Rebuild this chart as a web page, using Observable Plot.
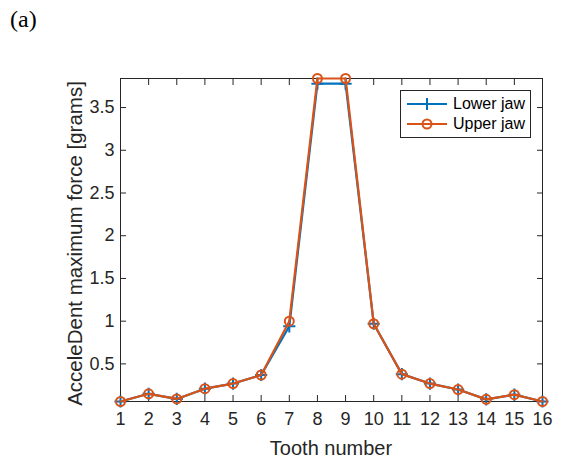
<!DOCTYPE html>
<html><head><meta charset="utf-8">
<script src="https://cdn.jsdelivr.net/npm/d3@7"></script>
<script src="https://cdn.jsdelivr.net/npm/@observablehq/plot@0.6"></script>
<style>
body{margin:0;background:#fff;}
#wrap{position:relative;width:562px;height:458px;font-family:"Liberation Sans",Arial,sans-serif;}
#legend{position:absolute;left:400px;top:90px;width:129px;height:46px;border:1px solid #262626;background:#fff;font-size:16px;color:#000;}
.row{position:absolute;left:6px;height:20px;display:flex;align-items:center;}
.row svg{margin-right:6px;}
#labels{position:absolute;left:0;top:0;pointer-events:none;}
#wrap svg g[aria-label="x-axis tick label"], #wrap svg g[aria-label="y-axis tick label"]{font-size:18px;}
</style></head>
<body><div id="wrap"></div>
<script>
const teeth = [1,2,3,4,5,6,7,8,9,10,11,12,13,14,15,16];
const lowerJaw = [0.06,0.15,0.09,0.21,0.27,0.37,0.94,3.78,3.78,0.97,0.38,0.27,0.20,0.085,0.14,0.06];
const upperJaw = [0.06,0.15,0.09,0.21,0.27,0.37,1.00,3.84,3.84,0.97,0.38,0.27,0.20,0.085,0.14,0.06];
const seriesNames = ["Lower jaw","Upper jaw"];
const seriesColors = ["#0072BD","#D95319"];
const yTicks = [0.5,1,1.5,2,2.5,3,3.5];
const panelTitle = "(a)";
const xLabel = "Tooth number";
const yLabel = "AcceleDent maximum force [grams]";

const lower = teeth.map((t,i)=>({t, v: lowerJaw[i]}));
const upper = teeth.map((t,i)=>({t, v: upperJaw[i]}));
const axisColor = "#262626";
const W = 562, H = 458, mL = 120, mR = 20, mT = 78, mB = 57;

const chart = Plot.plot({
  width: W, height: H,
  marginLeft: mL, marginRight: mR, marginTop: mT, marginBottom: mB,
  style: {fontFamily: '"Liberation Sans", Arial, sans-serif', fontSize: "18px", color: axisColor, background: "transparent"},
  x: {domain: [1,16]},
  y: {domain: [0.06, 3.84]},
  marks: [
    Plot.frame({stroke: axisColor, strokeWidth: 1}),
    Plot.axisX({anchor: "bottom", ticks: teeth, tickSize: -6, tickPadding: 17, tickFormat: d=>String(d), label: null, fontSize: 18}),
    Plot.axisX({anchor: "top", ticks: teeth, tickSize: -6, tickFormat: ()=>"", label: null}),
    Plot.axisY({anchor: "left", ticks: yTicks, tickSize: -6, tickPadding: 12, tickFormat: d=>String(d), label: null, fontSize: 18}),
    Plot.axisY({anchor: "right", ticks: yTicks, tickSize: -6, tickFormat: ()=>"", label: null}),
    Plot.line(lower, {x: "t", y: "v", stroke: seriesColors[0], strokeWidth: 2.2}),
    Plot.dot(lower, {x: "t", y: "v", symbol: "plus", stroke: seriesColors[0], strokeWidth: 2, r: 4}),
    Plot.line(upper, {x: "t", y: "v", stroke: seriesColors[1], strokeWidth: 2.2}),
    Plot.dot(upper, {x: "t", y: "v", symbol: "circle", stroke: seriesColors[1], fill: "none", strokeWidth: 2, r: 4.5})
  ]
});
chart.style.position = "absolute";
chart.style.left = "0"; chart.style.top = "0";
const wrap = document.getElementById("wrap");
wrap.appendChild(chart);

// title and axis labels
const ns = "http://www.w3.org/2000/svg";
const lab = document.createElementNS(ns, "svg");
lab.setAttribute("id","labels"); lab.setAttribute("width", W); lab.setAttribute("height", H);
function addText(str, attrs){
  const t = document.createElementNS(ns, "text");
  for (const k in attrs) t.setAttribute(k, attrs[k]);
  t.textContent = str; lab.appendChild(t);
}
addText(panelTitle, {x: 10, y: 27, "font-family": '"Liberation Serif","Times New Roman",serif', "font-size": 24, fill: "#000"});
addText(xLabel, {x: mL + (W - mL - mR)/2, y: 455, "text-anchor": "middle", "font-family": '"Liberation Sans",Arial,sans-serif', "font-size": 20, fill: axisColor});
const cy = mT + (H - mT - mB)/2;
addText(yLabel, {x: 0, y: 0, transform: `translate(82,${cy + 4}) rotate(-90)`, "text-anchor": "middle", "font-family": '"Liberation Sans",Arial,sans-serif', "font-size": 20.5, fill: axisColor});
wrap.appendChild(lab);

// legend
const leg = document.createElement("div");
leg.id = "legend";
seriesNames.forEach((name,i)=>{
  const row = document.createElement("div");
  row.className = "row";
  row.style.top = (3 + i*20) + "px";
  const sym = i===0
    ? `<line x1="20" y1="4" x2="20" y2="16" stroke="${seriesColors[i]}" stroke-width="2"/>`
    : `<circle cx="20" cy="10" r="4.5" fill="none" stroke="${seriesColors[i]}" stroke-width="2"/>`;
  row.innerHTML = `<svg width="40" height="20"><line x1="0" y1="10" x2="40" y2="10" stroke="${seriesColors[i]}" stroke-width="2.2"/>${sym}</svg><span>${name}</span>`;
  leg.appendChild(row);
});
wrap.appendChild(leg);
</script></body></html>
